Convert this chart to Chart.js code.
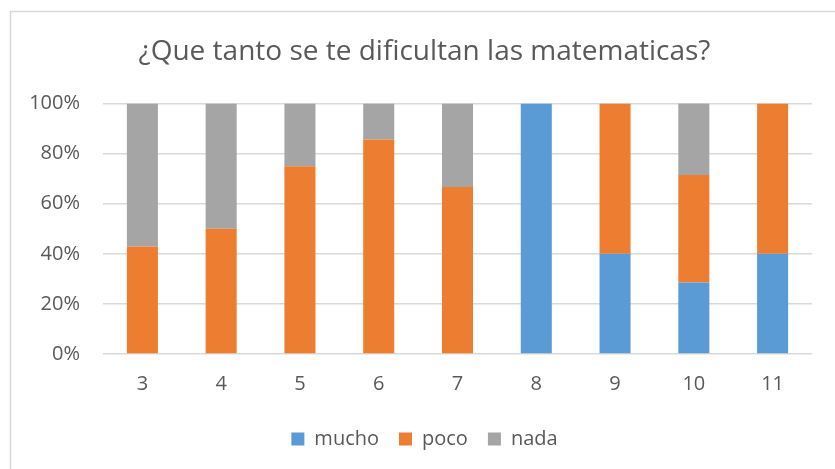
<!DOCTYPE html>
<html>
<head>
<meta charset="utf-8">
<script src="https://cdn.jsdelivr.net/npm/chart.js@4/dist/chart.umd.min.js"></script>
<style>
  html, body { margin: 0; padding: 0; background: #fff; }
  #wrap { width: 835px; height: 469px; }
</style>
</head>
<body>
<div id="wrap"><canvas id="chart"></canvas></div>
<script>
// Data (percent of answers per grade)
const grados = ['3', '4', '5', '6', '7', '8', '9', '10', '11'];
const mucho = [0, 0, 0, 0, 0, 100, 40, 28.6, 40];
const poco = [42.9, 50, 75, 85.7, 66.7, 0, 60, 42.9, 60];
const nada = [57.1, 50, 25, 14.3, 33.3, 0, 0, 28.6, 0];
const yTicks = [0, 20, 40, 60, 80, 100];

const txtColor = '#595959';
const gridColor = '#d9d9d9';

Chart.defaults.font.family = '"Open Sans", sans-serif';
Chart.defaults.color = txtColor;

// light grey frame round the chart, like the spreadsheet chart box
const frame = {
  id: 'frame',
  beforeDraw(chart) {
    const c = chart.ctx;
    c.save();
    c.fillStyle = '#fff';
    c.fillRect(0, 0, chart.width, chart.height);
    c.strokeStyle = gridColor;
    c.lineWidth = 1.5;
    c.strokeRect(10.5, 11.5, 900, 600);
    c.restore();
  }
};

const ctx = document.getElementById('chart').getContext('2d');
new Chart(ctx, {
  type: 'bar',
  data: {
    labels: grados,
    datasets: [
      { label: 'mucho', data: mucho, backgroundColor: '#5b9bd5' },
      { label: 'poco', data: poco, backgroundColor: '#ed7d31' },
      { label: 'nada', data: nada, backgroundColor: '#a5a5a5' }
    ]
  },
  options: {
    responsive: true,
    maintainAspectRatio: false,
    animation: false,
    categoryPercentage: 1,
    barPercentage: 0.394,
    layout: { padding: { left: 14, right: 0, top: 0, bottom: 10 } },
    plugins: {
      title: {
        display: true,
        text: '¿Que tanto se te dificultan las matematicas?',
        color: txtColor,
        font: { size: 28, weight: 'normal' },
        padding: { top: 35, bottom: 35 }
      },
      legend: {
        position: 'bottom',
        labels: {
          boxWidth: 13,
          boxHeight: 13,
          padding: 20,
          font: { size: 20 },
          color: txtColor
        }
      },
      tooltip: { enabled: false }
    },
    scales: {
      x: {
        stacked: true,
        grid: { display: false },
        border: { display: false },
        afterFit(scale) { scale.height += 3; },
        ticks: { font: { size: 20 }, color: txtColor, padding: 10 }
      },
      y: {
        stacked: true,
        min: 0,
        max: 100,
        afterBuildTicks(scale) {
          scale.ticks = yTicks.map(v => ({ value: v }));
        },
        afterFit(scale) { scale.width = 89; },
        grid: { color: gridColor, lineWidth: 1.5, drawTicks: false },
        border: { display: false },
        ticks: {
          font: { size: 20 },
          color: txtColor,
          padding: 23,
          callback: v => v + '%'
        }
      },
      // empty right margin so the plot ends where the reference one does
      yRight: {
        position: 'right',
        grid: { display: false },
        border: { display: false },
        ticks: { display: false },
        afterFit(scale) { scale.width = 23; }
      }
    }
  },
  plugins: [frame]
});
</script>
</body>
</html>
